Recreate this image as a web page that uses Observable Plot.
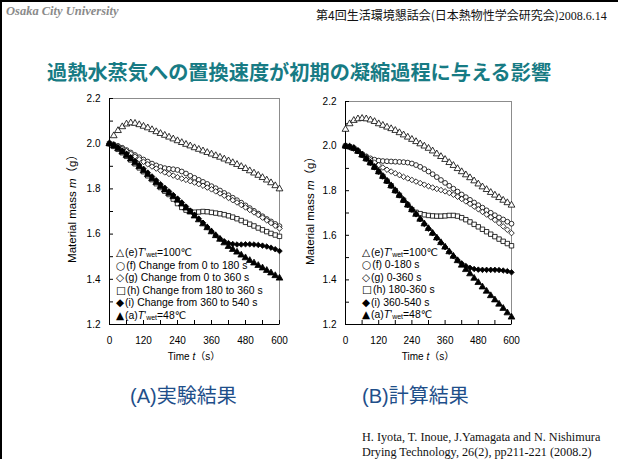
<!DOCTYPE html>
<html><head><meta charset="utf-8">
<script src="https://cdn.jsdelivr.net/npm/d3@7"></script>
<script src="https://cdn.jsdelivr.net/npm/@observablehq/plot@0.6"></script>
<style>
body{margin:0;background:#fff;}
#slide{position:relative;width:618px;height:459px;overflow:hidden;background:#fff;font-family:"Liberation Sans","Noto Sans CJK JP",sans-serif;color:#000;}
.abs{position:absolute;white-space:nowrap;}
.jp{font-family:"Noto Sans CJK JP",sans-serif;}
.serif{font-family:"Liberation Serif",serif;}
.leg{position:absolute;white-space:nowrap;font-family:"Liberation Sans","DejaVu Sans",sans-serif;font-size:10.4px;line-height:1;transform:translateY(-50%);}
.leg .sym{font-family:"DejaVu Sans",sans-serif;font-size:10.5px;margin-right:1px;}
.leg sub{font-size:7px;vertical-align:-1px;line-height:0;}
.ylab{position:absolute;white-space:nowrap;font-size:11.5px;line-height:1;transform:translate(-50%,-50%) rotate(-90deg);}
.xlab{position:absolute;white-space:nowrap;font-size:10px;line-height:1;transform:translate(-50%,-50%);}
</style></head><body>
<div id="slide">
  <div class="abs" style="left:0;top:0;width:2px;height:459px;background:#000"></div>
  <div class="abs" style="left:0;top:0;width:618px;height:2px;background:#000"></div>
  <div class="abs serif" style="left:6px;top:5px;font-size:12.5px;font-style:italic;font-weight:bold;color:#8a8a8a;line-height:1">Osaka City University</div>
  <div class="abs" style="left:316px;top:9px;font-size:12px;line-height:1;color:#111"><span class="jp">第4回生活環境懇話会(日本熱物性学会研究会)</span><span class="serif">2008.6.14</span></div>
  <div class="abs jp" style="left:47px;top:62px;font-size:20.2px;font-weight:bold;line-height:1;color:#177b84">過熱水蒸気への置換速度が初期の凝縮過程に与える影響</div>
  <div id="pA" class="abs"></div>
  <div id="pB" class="abs"></div>
  <div id="legA"></div>
  <div id="legB"></div>
  <div class="ylab" style="left:73px;top:206px">Material mass <i>m</i>（g）</div>
  <div class="ylab" style="left:311px;top:208px">Material mass <i>m</i>（g）</div>
  <div class="xlab" style="left:194px;top:357px">Time <i>t</i>（s）</div>
  <div class="xlab" style="left:428px;top:357px">Time <i>t</i>（s）</div>
  <div class="abs" style="left:130px;top:383px;font-size:20px;line-height:1.2;color:#1f4f8a">(A)<span class="jp">実験結果</span></div>
  <div class="abs" style="left:362px;top:383px;font-size:20px;line-height:1.2;color:#1f4f8a">(B)<span class="jp">計算結果</span></div>
  <div class="abs serif" style="left:362px;top:430px;font-size:12.2px;line-height:15px;color:#111">H. Iyota, T. Inoue, J.Yamagata and N. Nishimura<br>Drying Technology, 26(2), pp211-221 (2008.2)</div>
</div>
<script>
// sampling times (s)
const times = [0,15,30,45,60,75,90,105,120,135,150,165,180,195,210,225,240,255,270,285,300,315,330,345,360,375,390,405,420,435,450,465,480,495,510,525,540,555,570,585,600];
const xTicks = [0,120,240,360,480,600];
const xMinor = [0,60,120,180,240,300,360,420,480,540,600];
const yTicks = [1.2,1.4,1.6,1.8,2.0,2.2];
const yMinor = [1.2,1.3,1.4,1.5,1.6,1.7,1.8,1.9,2.0,2.1,2.2];

// (A) experiment
const A_e = [2.000,2.035,2.058,2.075,2.087,2.092,2.090,2.084,2.077,2.070,2.062,2.053,2.045,2.037,2.029,2.021,2.013,2.005,1.997,1.990,1.982,1.975,1.968,1.961,1.954,1.947,1.940,1.932,1.924,1.916,1.908,1.899,1.890,1.880,1.870,1.860,1.850,1.839,1.827,1.814,1.800];
const A_f = [2.000,1.997,1.990,1.982,1.972,1.961,1.950,1.940,1.930,1.921,1.912,1.904,1.897,1.892,1.889,1.887,1.884,1.877,1.868,1.858,1.849,1.840,1.831,1.822,1.812,1.803,1.793,1.782,1.772,1.761,1.750,1.739,1.727,1.715,1.703,1.691,1.679,1.667,1.656,1.645,1.635];
const A_g = [2.000,1.996,1.988,1.978,1.967,1.955,1.943,1.931,1.920,1.909,1.899,1.890,1.881,1.873,1.866,1.859,1.852,1.846,1.840,1.834,1.828,1.821,1.814,1.806,1.798,1.789,1.780,1.770,1.760,1.750,1.740,1.729,1.718,1.707,1.696,1.685,1.673,1.661,1.649,1.637,1.625];
const A_h = [2.000,1.988,1.975,1.960,1.944,1.928,1.911,1.893,1.876,1.858,1.841,1.823,1.806,1.790,1.775,1.755,1.735,1.718,1.706,1.700,1.697,1.698,1.700,1.699,1.696,1.693,1.690,1.686,1.681,1.675,1.668,1.660,1.652,1.644,1.636,1.627,1.619,1.611,1.603,1.596,1.590];
const A_i = [2.000,1.993,1.983,1.970,1.956,1.940,1.923,1.906,1.889,1.872,1.855,1.838,1.821,1.805,1.789,1.773,1.757,1.740,1.722,1.704,1.686,1.668,1.650,1.631,1.613,1.595,1.580,1.568,1.560,1.556,1.554,1.554,1.555,1.555,1.554,1.552,1.549,1.545,1.540,1.533,1.525];
const A_a = [2.000,1.990,1.978,1.963,1.948,1.932,1.915,1.898,1.880,1.863,1.845,1.828,1.810,1.795,1.780,1.765,1.750,1.733,1.715,1.698,1.680,1.663,1.645,1.628,1.610,1.593,1.577,1.561,1.545,1.532,1.520,1.507,1.495,1.483,1.472,1.461,1.450,1.439,1.428,1.416,1.405];

// (B) calculation
const B_e = [2.075,2.100,2.115,2.122,2.124,2.122,2.117,2.110,2.100,2.093,2.085,2.078,2.070,2.060,2.050,2.040,2.030,2.020,2.010,2.000,1.990,1.978,1.965,1.953,1.940,1.926,1.913,1.899,1.885,1.871,1.858,1.844,1.830,1.817,1.805,1.792,1.780,1.769,1.757,1.746,1.735];
const B_f = [2.000,1.997,1.990,1.978,1.965,1.954,1.945,1.939,1.935,1.933,1.932,1.931,1.930,1.929,1.928,1.926,1.922,1.915,1.907,1.897,1.886,1.874,1.861,1.848,1.835,1.822,1.809,1.796,1.783,1.771,1.759,1.747,1.735,1.724,1.712,1.701,1.690,1.680,1.671,1.661,1.652];
const B_g = [2.000,1.997,1.990,1.978,1.964,1.951,1.938,1.926,1.915,1.904,1.894,1.886,1.878,1.870,1.862,1.855,1.848,1.841,1.834,1.827,1.820,1.814,1.808,1.803,1.797,1.790,1.782,1.773,1.763,1.752,1.741,1.729,1.717,1.705,1.693,1.681,1.669,1.655,1.640,1.625,1.610];
const B_h = [2.000,1.997,1.990,1.977,1.960,1.943,1.925,1.905,1.885,1.864,1.843,1.822,1.800,1.779,1.757,1.736,1.715,1.703,1.697,1.692,1.689,1.687,1.686,1.686,1.687,1.689,1.689,1.686,1.679,1.670,1.660,1.649,1.638,1.627,1.616,1.605,1.594,1.583,1.573,1.563,1.553];
const B_i = [2.000,1.997,1.990,1.977,1.960,1.943,1.925,1.905,1.885,1.864,1.843,1.822,1.800,1.779,1.757,1.736,1.715,1.694,1.672,1.651,1.630,1.609,1.588,1.567,1.547,1.526,1.506,1.489,1.474,1.462,1.454,1.449,1.446,1.445,1.445,1.445,1.445,1.444,1.442,1.439,1.434];
const B_a = [2.000,1.997,1.990,1.977,1.960,1.943,1.925,1.905,1.885,1.864,1.843,1.822,1.800,1.779,1.757,1.736,1.715,1.694,1.672,1.651,1.630,1.609,1.588,1.567,1.547,1.526,1.506,1.486,1.466,1.446,1.427,1.407,1.388,1.368,1.349,1.329,1.310,1.291,1.272,1.252,1.233];

const legendSymbols = ["△","○","◇","□","◆","▲"];
const legendA = ["(e)<i>T</i>'<sub>wet</sub>=100℃","(f) Change from 0 to 180 s","(g) Change from 0 to 360 s","(h) Change from 180 to 360 s","(i) Change from 360 to 540 s","(a)<i>T</i>'<sub>wet</sub>=48℃"];
const legendB = ["(e)<i>T</i>'<sub>wet</sub>=100℃","(f) 0-180 s","(g) 0-360 s","(h) 180-360 s","(i) 360-540 s","(a)<i>T</i>'<sub>wet</sub>=48℃"];

const diamond = d3.symbolDiamond2 || d3.symbolDiamond;
const styles = [
  {symbol: "triangle", fill: "#fff", r: 2.5},
  {symbol: "circle", fill: "#fff", r: 2.4},
  {symbol: diamond, fill: "#fff", r: 2.5},
  {symbol: "square", fill: "#fff", r: 2.5},
  {symbol: diamond, fill: "#000", r: 2.5},
  {symbol: "triangle", fill: "#000", r: 2.5}
];

function panel(id, series, cfg) {
  const {left, top, width, height, ml, mr, mt, mb} = cfg;
  const fw = width - ml - mr, fh = height - mt - mb;
  const marks = [
    Plot.frame({stroke: "#8c8c8c"}),
    Plot.ruleX([0], {stroke: "#000"}),
    Plot.ruleY([1.2], {stroke: "#000"}),
    Plot.tickX(xMinor, {x: d => d, insetTop: fh - 4, stroke: "#000"}),
    Plot.tickY(yMinor, {y: d => d, insetRight: fw - 4, stroke: "#000"}),
    Plot.axisX(xTicks, {tickSize: 0, tickPadding: 12, fontSize: 10, label: null}),
    Plot.axisY(yTicks, {tickSize: 0, tickPadding: 9, fontSize: 10, tickFormat: d3.format(".1f"), label: null})
  ];
  series.forEach((vals, k) => {
    const s = styles[k];
    marks.push(Plot.dot(times.map((t, i) => ({t, m: vals[i]})), {
      x: "t", y: "m", symbol: s.symbol, r: s.r, fill: s.fill, stroke: "#000", strokeWidth: 0.8
    }));
  });
  const svg = Plot.plot({
    width, height, marginLeft: ml, marginRight: mr, marginTop: mt, marginBottom: mb,
    x: {domain: [0, 600], label: null},
    y: {domain: [1.2, 2.2], label: null},
    style: {fontFamily: "Liberation Sans, Arial, sans-serif", fontSize: "10px", color: "#000", background: "transparent", overflow: "visible"},
    marks
  });
  const el = document.getElementById(id);
  el.style.left = left + "px";
  el.style.top = top + "px";
  el.append(svg);
}

panel("pA", [A_e, A_f, A_g, A_h, A_i, A_a], {left: 55, top: 88, width: 240, height: 285, ml: 54, mr: 16, mt: 10, mb: 49});
panel("pB", [B_e, B_f, B_g, B_h, B_i, B_a], {left: 290, top: 91, width: 240, height: 282, ml: 55, mr: 19, mt: 10, mb: 49});

function legend(id, labels, x, y0, dy) {
  const el = document.getElementById(id);
  labels.forEach((lab, k) => {
    const d = document.createElement("div");
    d.className = "leg";
    d.style.left = x + "px";
    d.style.top = (y0 + k * dy) + "px";
    d.innerHTML = '<span class="sym">' + legendSymbols[k] + '</span>' + lab;
    el.append(d);
  });
}
legend("legA", legendA, 116, 253, 12.6);
legend("legB", legendB, 362, 253, 12.4);
</script>
</body></html>
